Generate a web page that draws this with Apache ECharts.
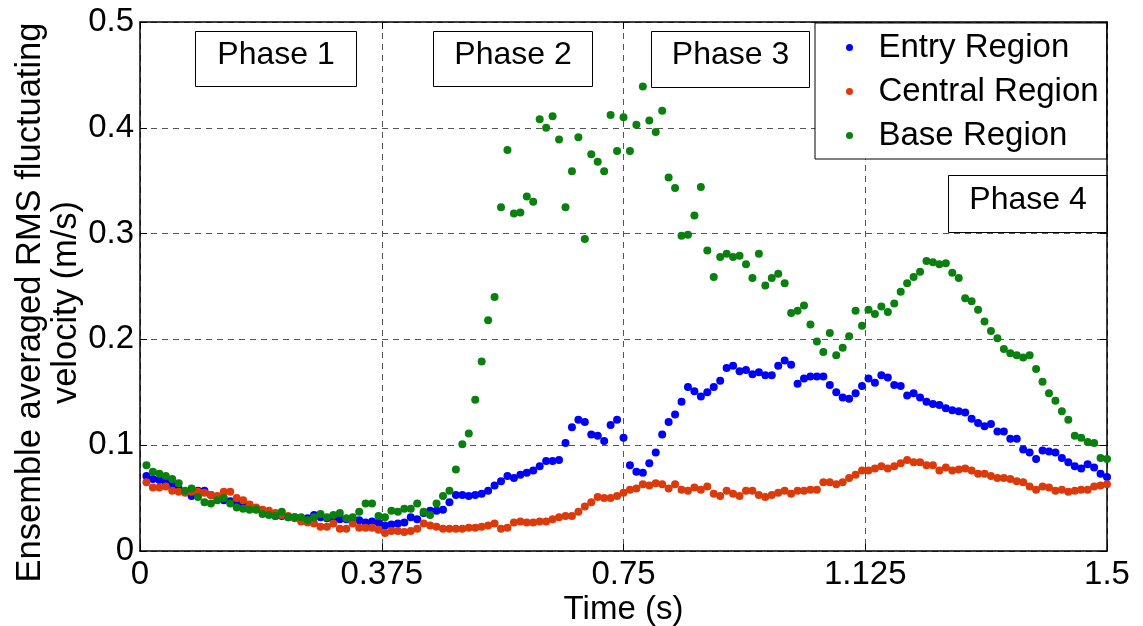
<!DOCTYPE html>
<html>
<head>
<meta charset="utf-8">
<script src="https://cdn.jsdelivr.net/npm/echarts@6/dist/echarts.min.js"></script>
<style>
  html, body { margin: 0; padding: 0; background: #fff; }
  #chart { width: 1143px; height: 626px; }
</style>
</head>
<body>
<div id="chart"></div>
<script>
// Ensemble averaged RMS fluctuating velocity (m/s), sampled every 0.01 s from 0.01 s to 1.50 s
const SERIES_NAMES = ['Entry Region', 'Central Region', 'Base Region'];
const SAMPLE_STEP = 0.01;

const entry = [
  0.071, 0.068, 0.067, 0.065, 0.062, 0.059, 0.056, 0.052, 0.057, 0.057,
  0.053, 0.050, 0.048, 0.047, 0.045, 0.043, 0.041, 0.040, 0.038, 0.036,
  0.033, 0.033, 0.032, 0.032, 0.031, 0.031, 0.034, 0.032, 0.031, 0.030,
  0.030, 0.030, 0.029, 0.029, 0.027, 0.028, 0.027, 0.024, 0.025, 0.026,
  0.027, 0.032, 0.030, 0.036, 0.038, 0.038, 0.039, 0.046, 0.053, 0.053,
  0.052, 0.053, 0.054, 0.057, 0.062, 0.066, 0.071, 0.069, 0.072, 0.074,
  0.076, 0.080, 0.085, 0.085, 0.086, 0.102, 0.117, 0.124, 0.122, 0.110,
  0.109, 0.104, 0.119, 0.124, 0.107, 0.081, 0.075, 0.074, 0.083, 0.093,
  0.110, 0.122, 0.129, 0.141, 0.155, 0.151, 0.146, 0.150, 0.155, 0.161,
  0.173, 0.175, 0.170, 0.171, 0.167, 0.169, 0.166, 0.166, 0.175, 0.180,
  0.176, 0.158, 0.163, 0.165, 0.165, 0.165, 0.157, 0.150, 0.145, 0.144,
  0.149, 0.156, 0.163, 0.159, 0.166, 0.164, 0.157, 0.156, 0.147, 0.149,
  0.145, 0.141, 0.139, 0.138, 0.135, 0.133, 0.132, 0.131, 0.125, 0.121,
  0.118, 0.120, 0.113, 0.113, 0.106, 0.106, 0.096, 0.093, 0.087, 0.095,
  0.094, 0.093, 0.088, 0.084, 0.080, 0.078, 0.082, 0.079, 0.073, 0.070
];

const central = [
  0.065, 0.060, 0.060, 0.061, 0.057, 0.056, 0.055, 0.056, 0.056, 0.055,
  0.053, 0.052, 0.056, 0.056, 0.050, 0.048, 0.044, 0.041, 0.039, 0.038,
  0.036, 0.034, 0.033, 0.031, 0.028, 0.027, 0.026, 0.023, 0.023, 0.026,
  0.021, 0.021, 0.026, 0.022, 0.022, 0.022, 0.020, 0.017, 0.019, 0.019,
  0.018, 0.019, 0.021, 0.026, 0.024, 0.023, 0.021, 0.021, 0.021, 0.021,
  0.022, 0.022, 0.023, 0.024, 0.026, 0.021, 0.022, 0.027, 0.028, 0.027,
  0.027, 0.028, 0.028, 0.030, 0.032, 0.033, 0.033, 0.037, 0.042, 0.046,
  0.051, 0.050, 0.050, 0.052, 0.055, 0.058, 0.059, 0.063, 0.062, 0.064,
  0.063, 0.059, 0.063, 0.058, 0.057, 0.060, 0.058, 0.061, 0.054, 0.052,
  0.057, 0.054, 0.052, 0.057, 0.057, 0.053, 0.051, 0.053, 0.055, 0.057,
  0.054, 0.057, 0.057, 0.058, 0.058, 0.065, 0.065, 0.063, 0.065, 0.069,
  0.072, 0.076, 0.076, 0.078, 0.080, 0.078, 0.080, 0.083, 0.086, 0.084,
  0.084, 0.081, 0.081, 0.076, 0.079, 0.076, 0.077, 0.078, 0.076, 0.073,
  0.073, 0.071, 0.069, 0.069, 0.068, 0.066, 0.065, 0.061, 0.058, 0.061,
  0.060, 0.057, 0.058, 0.056, 0.057, 0.058, 0.058, 0.061, 0.062, 0.063
];

const base = [
  0.081, 0.075, 0.073, 0.071, 0.068, 0.064, 0.057, 0.059, 0.051, 0.046,
  0.045, 0.048, 0.050, 0.045, 0.041, 0.040, 0.039, 0.039, 0.035, 0.034,
  0.033, 0.037, 0.032, 0.032, 0.032, 0.029, 0.032, 0.035, 0.032, 0.034,
  0.036, 0.031, 0.032, 0.037, 0.045, 0.045, 0.033, 0.032, 0.038, 0.037,
  0.040, 0.040, 0.045, 0.037, 0.034, 0.045, 0.052, 0.057, 0.077, 0.101,
  0.111, 0.143, 0.179, 0.218, 0.240, 0.325, 0.379, 0.319, 0.320, 0.335,
  0.330, 0.408, 0.400, 0.411, 0.389, 0.325, 0.359, 0.391, 0.295, 0.375,
  0.368, 0.359, 0.412, 0.378, 0.410, 0.378, 0.403, 0.439, 0.407, 0.396,
  0.416, 0.353, 0.343, 0.298, 0.299, 0.317, 0.344, 0.284, 0.259, 0.278,
  0.281, 0.278, 0.279, 0.271, 0.258, 0.281, 0.251, 0.258, 0.262, 0.253,
  0.225, 0.227, 0.232, 0.214, 0.198, 0.188, 0.206, 0.185, 0.192, 0.203,
  0.227, 0.213, 0.228, 0.224, 0.231, 0.226, 0.234, 0.245, 0.253, 0.259,
  0.264, 0.274, 0.273, 0.271, 0.272, 0.263, 0.258, 0.239, 0.236, 0.228,
  0.217, 0.208, 0.201, 0.191, 0.187, 0.185, 0.183, 0.185, 0.172, 0.160,
  0.149, 0.142, 0.132, 0.124, 0.109, 0.107, 0.103, 0.102, 0.088, 0.087
];

const X_TICKS = [0, 0.375, 0.75, 1.125, 1.5];
const X_TICK_LABELS = ['0', '0.375', '0.75', '1.125', '1.5'];
const Y_TICKS = [0, 0.1, 0.2, 0.3, 0.4, 0.5];
const Y_TICK_LABELS = ['0', '0.1', '0.2', '0.3', '0.4', '0.5'];
const PHASE_LABELS = ['Phase 1', 'Phase 2', 'Phase 3', 'Phase 4'];

const FONT = '"Liberation Sans", Arial, Helvetica, sans-serif';
const COLORS = ['#0000ff', '#dc3a0a', '#0a800f'];

// pair each reading with its sample time
function toPoints(values) {
  return values.map((v, i) => [(i + 1) * SAMPLE_STEP, v]);
}

function tickLabel(ticks, labels) {
  return function (v) {
    const i = ticks.findIndex(t => Math.abs(t - v) < 1e-9);
    return i >= 0 ? labels[i] : '';
  };
}

// annotation boxes for the flow phases (pixel layout)
const PHASE_BOXES = [
  { x: 195, y: 31, w: 161, h: 55 },
  { x: 433, y: 31, w: 159, h: 55 },
  { x: 651, y: 31, w: 158, h: 56 },
  { x: 948, y: 175, w: 159, h: 57 }
];

const chart = echarts.init(document.getElementById('chart'), null, { renderer: 'canvas' });

const axisLine = { show: true, onZero: false, lineStyle: { color: '#000', width: 1.5 } };
const gridLine = { show: true, lineStyle: { color: '#555', type: [6, 5], width: 1 } };
const tick = { show: true, inside: true, length: 7, lineStyle: { color: '#000', width: 1 } };

const option = {
  animation: false,
  backgroundColor: '#fff',
  textStyle: { fontFamily: FONT, color: '#000' },
  grid: { left: 140, right: 36, top: 22, bottom: 75, containLabel: false, outerBoundsMode: 'none' },
  xAxis: [
    {
      type: 'value', min: X_TICKS[0], max: X_TICKS[X_TICKS.length - 1], interval: 0.375,
      position: 'bottom',
      name: 'Time (s)', nameLocation: 'middle', nameGap: 42, nameMoveOverlap: false,
      nameTextStyle: { fontSize: 33, color: '#000', fontFamily: FONT },
      axisLine: axisLine,
      axisTick: tick,
      axisLabel: { fontSize: 33, color: '#000', fontFamily: FONT, margin: 7, formatter: tickLabel(X_TICKS, X_TICK_LABELS) },
      splitLine: gridLine
    },
    {
      type: 'value', min: X_TICKS[0], max: X_TICKS[X_TICKS.length - 1], interval: 0.375,
      position: 'top',
      axisLine: axisLine,
      axisTick: tick,
      axisLabel: { show: false },
      splitLine: { show: false }
    }
  ],
  yAxis: [
    {
      type: 'value', min: Y_TICKS[0], max: Y_TICKS[Y_TICKS.length - 1], interval: 0.1,
      position: 'left',
      name: 'Ensemble averaged RMS fluctuating\nvelocity (m/s)',
      nameLocation: 'middle', nameRotate: 90, nameGap: 56, nameMoveOverlap: false,
      nameTextStyle: { fontSize: 34.5, lineHeight: 36, color: '#000', fontFamily: FONT, align: 'center', padding: [0, 32, 0, 0] },
      axisLine: axisLine,
      axisTick: tick,
      axisLabel: { fontSize: 33, color: '#000', fontFamily: FONT, margin: 6, formatter: tickLabel(Y_TICKS, Y_TICK_LABELS) },
      splitLine: gridLine
    },
    {
      type: 'value', min: Y_TICKS[0], max: Y_TICKS[Y_TICKS.length - 1], interval: 0.1,
      position: 'right',
      axisLine: axisLine,
      axisTick: tick,
      axisLabel: { show: false },
      splitLine: { show: false }
    }
  ],
  legend: {
    data: SERIES_NAMES,
    orient: 'vertical',
    left: 815, top: 23,
    backgroundColor: '#fff',
    borderColor: '#000', borderWidth: 1,
    padding: [8, 8, 7, 31],
    itemGap: 11,
    itemWidth: 48, itemHeight: 7,
    icon: 'circle',
    selectedMode: false,
    textStyle: { fontSize: 33, lineHeight: 32, color: '#000', fontFamily: FONT },
    z: 20
  },
  graphic: PHASE_BOXES.map((b, i) => ({
    type: 'group', left: b.x, top: b.y, z: 100,
    children: [
      { type: 'rect', shape: { x: 0, y: 0, width: b.w, height: b.h },
        style: { fill: '#fff', stroke: '#000', lineWidth: 1 } },
      { type: 'text', x: b.w / 2, y: b.h / 2 - 4,
        style: { text: PHASE_LABELS[i], font: '32px ' + FONT, fill: '#000',
                 align: 'center', verticalAlign: 'middle', textAlign: 'center', textVerticalAlign: 'middle' } }
    ]
  })),
  series: [entry, central, base].map((vals, i) => ({
    name: SERIES_NAMES[i],
    type: 'scatter',
    xAxisIndex: 0, yAxisIndex: 0,
    symbol: 'circle',
    symbolSize: 8,
    itemStyle: { color: COLORS[i], opacity: 1 },
    emphasis: { disabled: true },
    data: toPoints(vals),
    z: 2 + i
  }))
};

chart.setOption(option);
</script>
</body>
</html>
